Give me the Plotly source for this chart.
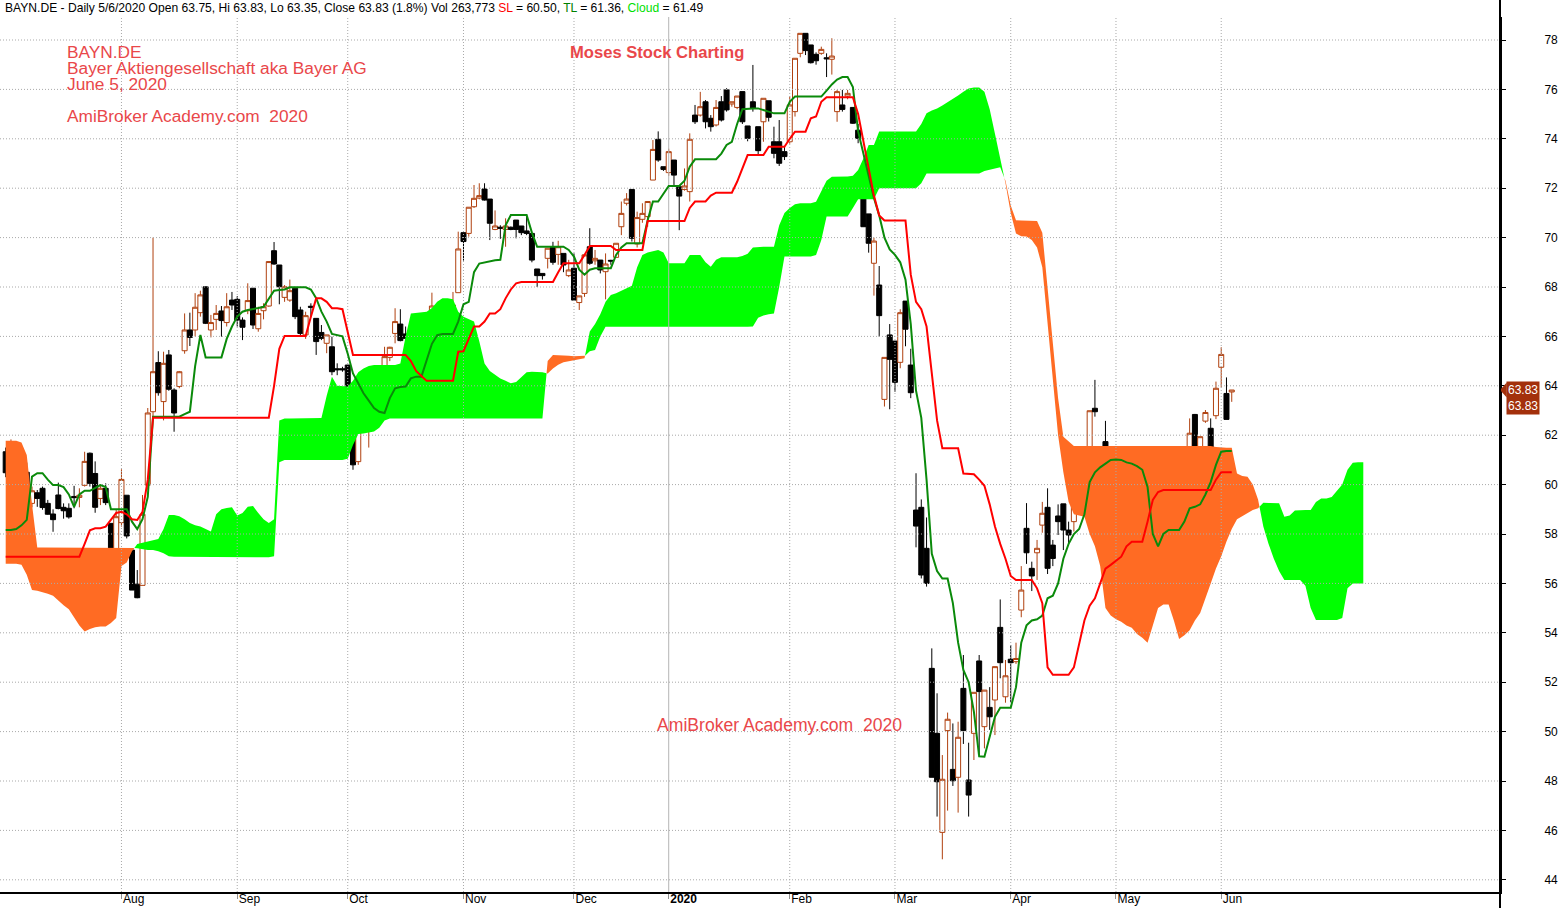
import plotly.graph_objects as go

# ---------------- data ----------------
OPEN = [61.33, 60.79, 61.06, 61.1, 60.5, 59.24, 59.67, 59.85, 59.24, 58.81,
        59.58, 59.08, 59.04, 59.52, 59.48, 59.97, 61.27, 60.45, 59.44, 59.85,
        58.43, 56.78, 58.46, 59.57, 57.35, 55.97, 55.92, 59.98, 62.95, 64.94,
        63.36, 65.25, 63.83, 63.97, 65.42, 66.26, 66.26, 66.96, 68.01, 66.26,
        66.69, 67.03, 66.56, 67.47, 67.5, 66.66, 67.04, 67.95, 66.31, 67.04,
        67.23, 69.47, 68.89, 67.58, 67.47, 67.95, 67.07, 66.06, 67.22, 66.73,
        66.16, 65.72, 65.58, 64.69, 64.69, 64.84, 62.48, 60.93, 64.03, 63.05,
        63.02, 63.05, 64.03, 65.15, 66.12, 66.5, 66.1, 65.92, 65.18, 65.45,
        64.37, 66.73, 67.2, 66.23, 66.29, 65.83, 67.77, 70.2, 70.17, 71.25,
        71.6, 71.97, 71.56, 70.33, 70.42, 70.33, 70.42, 70.71, 70.47, 70.27,
        70.17, 68.73, 68.55, 69.16, 69.63, 69.32, 69.36, 68.46, 68.76, 67.37,
        67.74, 69.63, 69.06, 69.09, 68.62, 69.08, 69.2, 70.44, 71.39, 71.95,
        69.74, 70.74, 70.85, 72.33, 73.98, 72.87, 72.63, 73.14, 72.06, 71.95,
        71.86, 74.96, 74.96, 75.5, 74.83, 74.56, 75.5, 75.98, 75.41, 75.27,
        75.91, 74.52, 75.5, 74.49, 74.69, 75.54, 73.88, 73.88, 73.48, 73.88,
        75.1, 77.46, 78.27, 77.8, 77.42, 77.46, 77.28, 77.22, 75.1, 75.37,
        75.73, 75.27, 74.35, 72.76, 70.96, 68.96, 68.08, 63.45, 66.06, 65.81,
        64.95, 67.43, 64.84, 58.97, 59.08, 57.42, 52.56, 49.93, 45.92, 50.04,
        48.47, 48.15, 51.75, 48.04, 49.93, 52.86, 50.2, 50.98, 51.28, 54.22,
        51.41, 52.93, 52.83, 54.92, 58.23, 56.61, 57.24, 58.36, 59.08, 57.55,
        58.73, 59.22, 58.16, 58.5, 59.98, 59.17, 61.47, 63.09, 61.12, 61.74,
        58.36, 58.73, 59.17, 58.6, 58.46, 58.16, 57.58, 57.55, 56.81, 56.25,
        57.76, 60.96, 60.32, 59.0, 57.08, 59.98, 62.84, 61.37, 62.57, 62.28,
        62.79, 64.75, 63.69, 63.75]
HIGH = [61.5, 61.83, 61.16, 61.12, 60.89, 59.92, 59.78, 59.92, 59.38, 59.0,
        60.08, 59.24, 59.24, 59.95, 59.85, 61.33, 61.3, 60.94, 59.98, 60.05,
        58.43, 58.97, 60.62, 59.57, 57.35, 56.54, 59.58, 63.1, 70.0, 65.4,
        65.38, 65.45, 63.9, 64.6, 66.93, 66.96, 67.75, 67.85, 68.01, 66.87,
        67.27, 67.23, 67.75, 67.8, 67.63, 66.77, 68.15, 67.95, 67.2, 67.34,
        69.03, 69.82, 68.89, 68.08, 68.3, 67.95, 67.2, 67.0, 67.34, 66.73,
        66.46, 66.06, 65.99, 64.91, 64.77, 64.84, 62.5, 62.24, 64.03, 63.42,
        64.37, 64.3, 65.58, 65.58, 67.14, 67.1, 66.4, 66.4, 66.06, 65.45,
        66.46, 67.77, 67.2, 66.5, 66.29, 67.8, 70.24, 70.2, 71.23, 72.13,
        72.2, 72.2, 71.56, 71.1, 70.5, 70.78, 70.45, 70.71, 70.47, 70.9,
        70.17, 68.73, 68.55, 69.57, 69.83, 69.87, 69.36, 69.1, 69.36, 67.64,
        69.3, 70.38, 69.5, 69.09, 69.36, 69.1, 69.77, 71.46, 71.8, 71.95,
        71.05, 71.39, 71.46, 73.95, 74.3, 72.87, 73.6, 73.14, 72.06, 72.8,
        74.22, 75.37, 75.9, 75.57, 74.96, 75.57, 75.73, 76.05, 75.5, 75.73,
        75.91, 74.52, 76.99, 74.49, 75.64, 75.54, 74.49, 74.76, 73.68, 75.71,
        77.26, 78.27, 78.27, 77.8, 77.5, 77.73, 77.46, 78.07, 75.98, 75.98,
        75.98, 75.27, 74.6, 73.07, 70.96, 70.0, 68.85, 65.15, 66.5, 65.81,
        67.1, 67.43, 65.5, 60.46, 59.4, 58.67, 53.37, 51.55, 49.05, 50.77,
        50.33, 50.4, 53.1, 49.55, 51.59, 53.1, 51.68, 51.8, 52.63, 55.35,
        52.9, 53.5, 53.6, 56.7, 59.25, 56.88, 57.76, 59.3, 59.85, 57.76,
        59.2, 59.22, 58.5, 59.58, 60.59, 60.35, 62.99, 64.24, 61.2, 62.58,
        59.04, 59.24, 59.51, 58.6, 58.6, 58.16, 58.59, 58.19, 56.97, 56.9,
        60.59, 60.96, 60.32, 59.0, 57.59, 62.68, 62.86, 61.94, 63.02, 62.68,
        64.17, 65.56, 64.34, 63.83]
LOW = [60.3, 60.72, 60.39, 60.64, 59.54, 59.08, 59.1, 58.98, 58.78, 58.09,
       59.0, 58.62, 58.62, 59.04, 59.08, 59.92, 59.92, 58.86, 59.17, 59.17,
       56.47, 56.78, 58.3, 57.82, 55.73, 55.4, 55.92, 59.8, 62.6, 63.6,
       62.6, 63.8, 62.14, 63.9, 65.3, 65.61, 66.0, 66.8, 66.5, 65.96,
       66.26, 65.99, 66.4, 67.07, 66.4, 65.85, 66.9, 66.3, 66.19, 66.69,
       67.2, 68.9, 67.3, 67.4, 67.4, 66.7, 66.0, 65.9, 66.8, 65.25,
       65.85, 65.32, 64.43, 64.43, 64.57, 62.41, 60.6, 60.8, 62.9, 61.5,
       62.75, 62.8, 63.63, 65.0, 65.72, 65.8, 65.8, 64.98, 65.1, 64.9,
       64.37, 66.5, 66.4, 66.12, 65.88, 65.83, 67.77, 69.07, 70.04, 71.2,
       71.55, 71.5, 69.9, 70.3, 69.95, 69.63, 70.3, 69.97, 70.1, 70.1,
       69.0, 68.0, 68.3, 68.75, 68.9, 68.9, 68.6, 68.4, 67.47, 67.07,
       67.6, 68.9, 68.9, 68.55, 67.5, 68.9, 69.2, 70.1, 71.3, 69.84,
       69.6, 70.6, 70.44, 72.33, 73.07, 72.7, 72.5, 72.13, 70.3, 71.9,
       71.46, 74.6, 74.9, 74.42, 74.29, 74.5, 74.7, 75.1, 75.3, 75.2,
       74.6, 73.9, 75.1, 73.34, 73.88, 74.7, 73.21, 72.9, 73.14, 73.8,
       74.9, 77.3, 77.39, 77.05, 77.0, 77.4, 76.5, 76.6, 74.69, 75.1,
       75.6, 74.6, 73.82, 70.44, 69.39, 67.65, 65.99, 63.16, 63.05, 63.76,
       64.71, 65.6, 63.5, 57.46, 56.2, 55.87, 48.15, 46.56, 44.83, 46.8,
       47.8, 46.72, 49.5, 46.56, 48.85, 49.05, 49.32, 50.07, 49.86, 52.16,
       51.17, 51.2, 52.74, 54.63, 56.79, 55.69, 56.14, 58.05, 56.38, 56.7,
       57.96, 57.35, 57.62, 58.1, 58.97, 59.1, 60.86, 62.75, 59.85, 60.08,
       57.82, 58.32, 58.36, 57.65, 57.8, 57.02, 57.5, 57.3, 55.36, 56.25,
       57.6, 60.25, 59.31, 57.76, 57.08, 59.65, 60.73, 61.1, 62.5, 60.66,
       62.65, 63.94, 62.64, 63.35]
CLOSE = [60.48, 60.97, 60.86, 60.66, 59.96, 59.75, 59.44, 59.07, 58.8, 58.58,
         59.03, 58.94, 58.69, 59.47, 59.57, 60.94, 60.05, 59.08, 59.85, 59.27,
         57.08, 58.7, 60.21, 57.92, 55.73, 55.42, 58.8, 62.9, 64.57, 63.72,
         64.91, 63.86, 62.9, 64.57, 66.26, 65.96, 67.18, 67.68, 66.53, 66.56,
         66.93, 66.64, 67.2, 67.27, 66.66, 66.37, 67.45, 66.46, 66.93, 67.2,
         69.03, 68.93, 68.01, 68.01, 67.85, 66.8, 66.12, 66.84, 67.18, 65.79,
         65.92, 66.06, 64.57, 64.65, 64.65, 62.41, 60.8, 62.24, 63.09, 63.33,
         64.14, 64.1, 65.18, 65.56, 66.6, 65.83, 65.92, 65.18, 65.69, 64.94,
         66.46, 67.23, 66.46, 66.33, 65.88, 67.27, 69.54, 69.84, 71.23, 71.59,
         71.7, 71.52, 70.58, 70.47, 70.38, 70.47, 70.33, 70.33, 70.2, 70.17,
         69.09, 68.46, 68.46, 69.57, 69.0, 69.63, 68.89, 68.69, 67.47, 67.64,
         69.3, 68.96, 69.16, 68.69, 68.93, 69.05, 69.77, 70.98, 71.56, 69.97,
         70.81, 70.98, 71.46, 73.57, 73.14, 72.76, 73.48, 72.53, 71.68, 72.09,
         73.98, 74.69, 75.3, 74.69, 74.49, 75.27, 74.76, 75.17, 75.5, 75.73,
         74.69, 74.02, 75.23, 73.52, 75.64, 74.87, 73.41, 73.01, 73.28, 75.37,
         77.26, 78.27, 77.57, 77.08, 77.16, 77.62, 77.24, 77.35, 75.91, 75.19,
         75.84, 74.63, 74.02, 70.44, 69.77, 69.86, 66.84, 65.15, 65.07, 64.14,
         66.96, 66.29, 63.72, 58.32, 56.34, 56.0, 48.15, 47.97, 48.07, 50.5,
         48.01, 49.77, 50.04, 47.43, 51.59, 51.62, 51.68, 50.6, 52.63, 52.79,
         52.26, 52.79, 52.96, 55.73, 57.24, 56.3, 57.42, 58.84, 56.61, 57.01,
         58.5, 58.16, 57.96, 59.58, 59.85, 59.51, 62.99, 62.95, 61.16, 60.08,
         57.89, 59.24, 58.36, 57.87, 57.92, 57.65, 58.36, 57.38, 55.71, 56.7,
         60.3, 60.39, 59.45, 57.96, 57.59, 62.08, 61.29, 61.94, 62.92, 60.66,
         63.9, 65.27, 62.64, 63.83]

# Tenkan (TL, green line) and Kijun (SL, red line), one value per bar
TENKAN = [58.16, 58.16, 58.2, 58.35, 58.57, 60.32, 60.46, 60.46, 60.2, 59.98,
          59.98, 59.9, 59.6, 59.1, 59.6, 59.75, 59.75, 59.85, 59.98, 59.9,
          59.0, 59.0, 59.0, 59.0, 58.5, 58.2, 58.6, 59.5, 62.75, 62.75,
          62.75, 62.75, 62.75, 62.75, 62.85, 62.95, 64.8, 66.06, 65.15, 65.15,
          65.15, 65.15, 65.9, 66.4, 66.8, 67.0, 67.07, 67.1, 67.15, 67.2,
          67.5, 67.85, 67.88, 67.9, 67.99, 67.99, 67.99, 67.99, 67.9, 67.55,
          67.0, 66.6, 66.1, 66.06, 66.0, 65.3, 64.5, 64.1, 63.7, 63.4,
          63.1, 62.95, 62.9, 63.5, 63.9, 63.95, 63.97, 64.3, 64.37, 64.37,
          65.0, 65.7, 66.05, 66.1, 66.1, 66.1, 66.6, 67.3, 67.4, 68.6,
          68.95, 69.0, 69.05, 69.08, 69.1, 70.5, 70.91, 70.91, 70.91, 70.91,
          70.2, 69.63, 69.63, 69.63, 69.63, 69.63, 69.63, 69.5, 69.23, 68.7,
          68.5, 68.7, 68.76, 68.76, 68.76, 68.76, 69.3, 69.6, 69.77, 69.77,
          69.77, 69.77, 70.7, 71.46, 71.46, 71.8, 72.09, 72.09, 72.09, 72.3,
          72.87, 73.17, 73.17, 73.17, 73.17, 73.17, 73.4, 73.75, 73.88, 74.6,
          75.2, 75.23, 75.23, 75.23, 75.15, 75.1, 75.03, 75.03, 75.03, 75.5,
          75.71, 75.71, 75.71, 75.71, 75.71, 75.71, 75.95, 76.2, 76.4, 76.5,
          76.5, 76.1, 74.3, 73.4, 72.5, 71.6, 70.9, 70.0, 69.52, 69.3,
          69.0, 68.3, 66.5, 63.8, 62.7, 60.2, 57.2, 56.5, 56.2, 56.2,
          55.2, 53.6, 52.5, 52.0, 50.8, 49.0, 48.98, 49.8, 50.6, 50.97,
          50.97, 50.97, 51.8, 53.6, 54.3, 54.5, 54.55, 54.7, 55.4, 55.5,
          56.0, 57.0, 57.6, 58.0, 58.2, 58.8, 60.1, 60.5, 60.7, 60.85,
          61.0, 61.02, 61.0, 60.9, 60.85, 60.75, 60.6, 59.9, 58.0, 57.5,
          58.0, 58.16, 58.16, 58.16, 58.5, 59.04, 59.1, 59.2, 59.6, 60.1,
          60.8, 61.33, 61.36, 61.36]
KIJUN = [57.08, 57.08, 57.08, 57.08, 57.08, 57.08, 57.08, 57.08, 57.08, 57.08,
         57.08, 57.08, 57.08, 57.08, 57.08, 57.6, 58.15, 58.23, 58.23, 58.3,
         58.6, 58.85, 58.9, 58.8, 58.6, 58.57, 58.9, 60.2, 62.71, 62.71,
         62.71, 62.71, 62.71, 62.71, 62.71, 62.71, 62.71, 62.71, 62.71, 62.71,
         62.71, 62.71, 62.71, 62.71, 62.71, 62.71, 62.71, 62.71, 62.71, 62.71,
         62.71, 64.0, 65.5, 66.02, 66.02, 66.02, 66.02, 66.02, 66.8, 67.54,
         67.54, 67.4, 67.14, 67.14, 67.1, 66.2, 65.25, 65.25, 65.25, 65.25,
         65.25, 65.25, 65.25, 65.25, 65.25, 65.25, 65.25, 65.0, 64.6, 64.4,
         64.2, 64.2, 64.2, 64.2, 64.2, 64.2, 65.38, 65.4, 65.9, 66.4,
         66.4, 66.6, 66.93, 66.93, 67.1, 67.54, 67.9, 68.15, 68.2, 68.2,
         68.2, 68.2, 68.2, 68.2, 68.2, 68.6, 68.96, 68.96, 68.96, 68.96,
         69.3, 69.66, 69.66, 69.66, 69.66, 69.66, 69.5, 69.5, 69.5, 69.5,
         69.5, 69.5, 70.67, 70.67, 70.67, 70.67, 70.67, 70.67, 70.67, 70.67,
         71.2, 71.46, 71.46, 71.46, 71.7, 71.82, 71.82, 71.82, 71.82, 72.26,
         72.8, 73.34, 73.34, 73.34, 73.34, 73.68, 73.68, 73.68, 73.68, 74.0,
         74.29, 74.29, 74.29, 74.83, 74.9, 75.5, 75.68, 75.68, 75.68, 75.68,
         75.68, 75.68, 75.0, 73.9, 72.7, 71.7, 70.9, 70.69, 70.69, 70.69,
         70.69, 70.69, 68.5, 67.4, 67.1, 66.4, 64.5, 62.6, 61.47, 61.47,
         61.47, 61.47, 60.45, 60.45, 60.42, 60.2, 59.95, 59.2, 58.3, 57.6,
         57.0, 56.3, 56.14, 56.14, 56.14, 56.14, 55.8, 55.2, 52.6, 52.3,
         52.3, 52.3, 52.3, 52.6, 53.57, 54.5, 55.1, 55.4, 56.0, 56.6,
         56.75, 56.9, 57.08, 57.5, 57.69, 57.69, 57.69, 58.5, 59.38, 59.7,
         59.78, 59.78, 59.78, 59.78, 59.78, 59.78, 59.78, 59.78, 59.78, 59.78,
         60.2, 60.5, 60.5, 60.5]

# Senkou spans (already displaced forward, so they run 25 bars past the last candle)
SPAN_A = [56.8, 56.8, 56.8, 56.75, 56.35, 55.73, 55.7, 55.65, 55.58, 55.5,
          55.3, 55.12, 54.95, 54.6, 54.3, 54.05, 54.15, 54.22, 54.25, 54.25,
          54.4, 54.6, 56.7, 56.85, 57.3, 57.6, 57.65, 57.7, 57.75, 57.8,
          58.2, 58.77, 58.77, 58.72, 58.6, 58.45, 58.35, 58.3, 58.2, 58.1,
          58.8, 59.0, 59.05, 59.08, 58.75, 58.85, 59.1, 59.13, 58.85, 58.6,
          58.45, 58.6, 62.6, 62.68, 62.68, 62.68, 62.68, 62.68, 62.68, 62.68,
          62.7, 63.6, 64.37, 64.0, 63.97, 63.97, 64.2, 64.55, 64.7, 64.8,
          64.84, 64.84, 64.84, 64.84, 64.84, 64.9, 66.0, 66.93, 66.95, 66.98,
          67.0, 67.15, 67.4, 67.54, 67.54, 67.5, 67.0, 66.8, 66.7, 66.6,
          65.8, 64.9, 64.6, 64.45, 64.3, 64.2, 64.1, 64.15, 64.35, 64.55,
          64.57, 64.57, 64.55, 64.5, 64.7, 64.85, 64.95, 65.0, 65.05, 65.08,
          65.12, 66.2, 66.5, 66.9, 67.4, 67.68, 67.75, 67.85, 67.95, 68.05,
          68.8, 69.3, 69.4, 69.45, 69.5, 69.4, 68.96, 68.96, 68.96, 68.96,
          69.3, 69.3, 69.3, 69.0, 68.82, 69.1, 69.2, 69.2, 69.2, 69.2,
          69.25, 69.35, 69.6, 69.63, 69.63, 69.63, 69.63, 70.5, 71.0, 71.2,
          71.35, 71.39, 71.39, 71.39, 71.45, 71.9, 72.3, 72.46, 72.46, 72.46,
          72.47, 72.5, 72.74, 73.2, 73.75, 73.75, 74.3, 74.3, 74.3, 74.3,
          74.3, 74.3, 74.3, 74.3, 74.6, 75.03, 75.15, 75.23, 75.35, 75.48,
          75.6, 75.75, 75.9, 76.04, 76.08, 76.08, 75.9, 75.2, 74.2, 73.2,
          72.2, 71.0, 70.17, 70.05, 70.04, 69.9, 69.6, 68.8, 66.8, 64.3,
          62.0, 60.5, 59.3, 58.8, 58.75, 58.7, 58.0, 57.5, 56.7, 55.0,
          54.7, 54.55, 54.45, 54.3, 54.2, 53.95, 53.8, 53.6, 54.3, 55.0,
          55.15, 55.15, 54.5, 53.75, 53.9, 54.1, 54.5, 54.8, 55.4, 56.0,
          56.6, 57.1, 57.7, 58.2, 58.6, 58.75, 58.85, 58.97, 59.04,
          59.27, 59.26, 59.25, 59.24, 58.7, 58.75, 58.95, 58.97, 58.97, 58.97,
          59.3, 59.44, 59.44, 59.5, 59.75, 60.0, 60.6, 60.88, 60.9, 60.9]
SPAN_B = [61.78, 61.78, 61.78, 61.7, 61.2, 59.2, 57.45, 57.45, 57.45, 57.45,
          57.45, 57.45, 57.45, 57.45, 57.45, 57.45, 57.45, 57.45, 57.45, 57.45,
          57.45, 57.45, 57.45, 57.45, 57.45, 57.42, 57.38, 57.35, 57.35, 57.3,
          57.22, 57.1, 57.08, 57.06, 57.06, 57.06, 57.06, 57.06, 57.06, 57.06,
          57.06, 57.06, 57.06, 57.06, 57.06, 57.06, 57.06, 57.06, 57.06, 57.06,
          57.06, 57.1, 60.9, 61.0, 61.0, 61.0, 61.0, 61.0, 61.0, 61.0,
          61.0, 61.0, 61.0, 61.0, 61.0, 61.05, 61.6, 62.05, 62.07, 62.1,
          62.15, 62.3, 62.6, 62.68, 62.68, 62.68, 62.68, 62.68, 62.68, 62.68,
          62.68, 62.68, 62.68, 62.68, 62.68, 62.68, 62.68, 62.68, 62.68, 62.68,
          62.68, 62.68, 62.68, 62.68, 62.68, 62.68, 62.68, 62.68, 62.68, 62.68,
          62.68, 62.68, 62.68, 65.0, 65.25, 65.25, 65.25, 65.22, 65.2, 65.2,
          65.2, 65.4, 65.45, 66.0, 66.39, 66.39, 66.39, 66.39, 66.39, 66.39,
          66.39, 66.39, 66.39, 66.39, 66.39, 66.39, 66.39, 66.39, 66.39, 66.39,
          66.39, 66.39, 66.39, 66.39, 66.39, 66.39, 66.39, 66.39, 66.39, 66.39,
          66.39, 66.39, 66.4, 66.75, 66.85, 66.9, 66.93, 68.0, 69.23, 69.23,
          69.23, 69.23, 69.23, 69.23, 69.3, 69.9, 70.85, 70.85, 70.85, 70.85,
          70.85, 71.2, 71.55, 71.55, 71.55, 71.55, 72.0, 72.0, 72.0, 72.0,
          72.0, 72.0, 72.0, 72.0, 72.2, 72.6, 72.6, 72.6, 72.6, 72.6,
          72.6, 72.6, 72.6, 72.6, 72.6, 72.6, 72.7, 72.75, 72.8, 72.85,
          72.3, 71.3, 70.7, 70.69, 70.68, 70.67, 70.67, 70.2, 68.0, 65.8,
          63.5, 61.94, 61.75, 61.56, 61.56, 61.56, 61.56, 61.56, 61.56, 61.56,
          61.56, 61.56, 61.56, 61.56, 61.56, 61.56, 61.56, 61.56, 61.56, 61.56,
          61.56, 61.56, 61.56, 61.56, 61.56, 61.56, 61.56, 61.56, 61.56, 61.56,
          61.52, 61.5, 61.49, 61.49, 60.45, 60.35, 60.32, 60.0, 59.4,
          58.3, 57.6, 57.0, 56.5, 56.14, 56.14, 56.14, 56.14, 55.9, 55.0,
          54.52, 54.52, 54.52, 54.52, 54.52, 54.6, 55.8, 56.0, 56.0, 56.0]

MONTH_TICKS = [22, 44, 65, 87, 108, 126, 149, 169, 191, 211, 231]
MONTH_LABELS = ["Aug", "Sep", "Oct", "Nov", "Dec", "<b>2020</b>", "Feb", "Mar", "Apr", "May", "Jun"]
YEAR_TICK = 126
PRICE_TICKS = [44, 46, 48, 50, 52, 54, 56, 58, 60, 62, 64, 66, 68, 70, 72, 74, 76, 78]

HEADER = ("BAYN.DE - Daily 5/6/2020 Open 63.75, Hi 63.83, Lo 63.35, Close 63.83 (1.8%) "
          "Vol 263,773 <span style='color:#FF0000'>SL</span> = 60.50, "
          "<span style='color:#008000'>TL</span> = 61.36, "
          "<span style='color:#00E000'>Cloud</span> = 61.49")
NOTE_LINES = ["BAYN.DE", "Bayer Aktiengesellschaft aka Bayer AG", "June 5, 2020"]
NOTE_SITE = "AmiBroker Academy.com\u00a0\u00a02020"
NOTE_BRAND = "Moses Stock Charting"

# ---------------- styling / layout constants ----------------
W, H = 1561, 908
ML, MR, MT, MB = 0, 61, 17, 16
PW, PH = W - ML - MR, H - MT - MB
X_RANGE = [-1.083, 283.98]
Y_RANGE = [43.506, 78.931]
UP = "#B0400F"
GREEN_CLOUD = "#00FF00"
ORANGE_CLOUD = "#FF6B23"
TXT_RED = "#E9474A"
GRID = "#A9A9A9"
FONT = "Liberation Sans, Arial, sans-serif"


def px_x(p):
    return (p - ML) / PW


def px_y(p):
    return (H - MB - p) / PH


def cloud_polygons(a, b):
    n = min(len(a), len(b))
    sg = [1 if a[k] >= b[k] else -1 for k in range(n)]
    out = []
    i = 0
    start_pt = None
    while i < n:
        j = i
        while j + 1 < n and sg[j + 1] == sg[i]:
            j += 1
        end_pt = None
        if j + 1 < n:
            d0 = a[j] - b[j]
            d1 = a[j + 1] - b[j + 1]
            t = d0 / (d0 - d1) if d0 != d1 else 0.5
            end_pt = (j + t, a[j] + t * (a[j + 1] - a[j]))
        xs, ys = [], []
        if start_pt:
            xs.append(start_pt[0]); ys.append(start_pt[1])
        for k in range(i, j + 1):
            xs.append(k); ys.append(max(a[k], b[k]))
        if end_pt:
            xs.append(end_pt[0]); ys.append(end_pt[1])
        for k in range(j, i - 1, -1):
            xs.append(k); ys.append(min(a[k], b[k]))
        out.append((sg[i], xs, ys))
        start_pt = end_pt
        i = j + 1
    return out


fig = go.Figure()

# cloud
for s, xs, ys in cloud_polygons(SPAN_A, SPAN_B):
    fig.add_trace(go.Scatter(x=xs, y=ys, mode="lines", fill="toself",
                             fillcolor=GREEN_CLOUD if s > 0 else ORANGE_CLOUD,
                             line=dict(width=0), hoverinfo="skip"))

# grid drawn above the cloud, below the candles
gx, gy = [], []
for v in PRICE_TICKS:
    gx += [X_RANGE[0], X_RANGE[1], None]
    gy += [v, v, None]
for t in MONTH_TICKS:
    if t == YEAR_TICK:
        continue
    gx += [t, t, None]
    gy += [Y_RANGE[0], Y_RANGE[1], None]
fig.add_trace(go.Scatter(x=gx, y=gy, mode="lines",
                         line=dict(color=GRID, width=1, dash="1px,2px"), hoverinfo="skip"))
fig.add_trace(go.Scatter(x=[YEAR_TICK, YEAR_TICK], y=Y_RANGE, mode="lines",
                         line=dict(color="#B4B4B4", width=1), hoverinfo="skip"))

# candles
bars = list(range(len(CLOSE)))
fig.add_trace(go.Candlestick(
    x=bars, open=OPEN, high=HIGH, low=LOW, close=CLOSE,
    increasing=dict(line=dict(color=UP, width=1), fillcolor="white"),
    decreasing=dict(line=dict(color="black", width=1), fillcolor="black"),
    whiskerwidth=0, hoverinfo="skip"))

# lines
fig.add_trace(go.Scatter(x=list(range(len(TENKAN))), y=TENKAN, mode="lines",
                         line=dict(color="#0A8A0A", width=2), hoverinfo="skip"))
fig.add_trace(go.Scatter(x=list(range(len(KIJUN))), y=KIJUN, mode="lines",
                         line=dict(color="#FF0000", width=2), hoverinfo="skip"))

annotations = [
    dict(text=HEADER, x=px_x(3), y=px_y(8), xref="paper", yref="paper",
         xanchor="left", yanchor="middle", showarrow=False,
         font=dict(family=FONT, size=12.1, color="black")),
]
for k, line in enumerate(NOTE_LINES):
    annotations.append(dict(text=line, x=px_x(66), y=px_y(52 + 16 * k), xref="paper", yref="paper",
                            xanchor="left", yanchor="middle", showarrow=False, borderpad=0,
                            font=dict(family=FONT, size=17.3, color=TXT_RED)))
annotations.append(dict(text=NOTE_SITE, x=px_x(66), y=px_y(116), xref="paper", yref="paper",
                        xanchor="left", yanchor="middle", showarrow=False, borderpad=0,
                        font=dict(family=FONT, size=17.3, color=TXT_RED)))
annotations.append(dict(text="<b>" + NOTE_BRAND + "</b>", x=px_x(568), y=px_y(52), xref="paper", yref="paper",
                        xanchor="left", yanchor="middle", showarrow=False,
                        font=dict(family=FONT, size=16.6, color=TXT_RED)))
annotations.append(dict(text=NOTE_SITE, x=px_x(655), y=px_y(725), xref="paper", yref="paper",
                        xanchor="left", yanchor="middle", showarrow=False,
                        font=dict(family=FONT, size=17.6, color=TXT_RED)))
last = CLOSE[-1]
annotations.append(dict(text="%.2f<br>%.2f" % (last, last), x=px_x(1506), y=last,
                        xref="paper", yref="y", xanchor="left", yanchor="middle", yshift=-8,
                        showarrow=False, bgcolor="#A3300B", borderpad=1,
                        font=dict(family=FONT, size=12, color="white")))

shapes = [
    dict(type="path", xref="paper", yref="y",
         path="M 1.0,%f L 1.0045,%f L 1.0045,%f Z" % (last, last + 0.3, last - 0.3),
         fillcolor="#A3300B", line=dict(width=0)),
    dict(type="line", xref="paper", yref="paper", x0=1, x1=1,
         y0=-MB / PH, y1=(PH + MT) / PH, line=dict(color="black", width=2)),
]

fig.update_layout(
    width=W, height=H, autosize=False,
    margin=dict(l=ML, r=MR, t=MT, b=MB, pad=0, autoexpand=False),
    paper_bgcolor="white", plot_bgcolor="white",
    showlegend=False, hovermode=False,
    boxgap=0.05, boxgroupgap=0.0,
    annotations=annotations, shapes=shapes,
    xaxis=dict(range=X_RANGE, tickvals=MONTH_TICKS, ticktext=MONTH_LABELS,
               ticks="outside", ticklen=5, tickcolor="#909090",
               ticklabelposition="outside right", ticklabelstandoff=-5,
               showgrid=False, zeroline=False, showline=True,
               linecolor="black", linewidth=2, automargin=False,
               rangeslider=dict(visible=False),
               tickfont=dict(family=FONT, size=12, color="black")),
    yaxis=dict(side="right", range=Y_RANGE, tickvals=PRICE_TICKS,
               ticks="outside", ticklen=4, tickcolor="black",
               showgrid=False, zeroline=False, showline=True, automargin=False,
               linecolor="black", linewidth=2, ticklabelstandoff=36,
               tickfont=dict(family=FONT, size=12, color="black")),
)

fig.write_html("out.html", config={"displayModeBar": False},
               post_script="document.body.style.margin='0px';document.body.style.overflow='hidden';")
